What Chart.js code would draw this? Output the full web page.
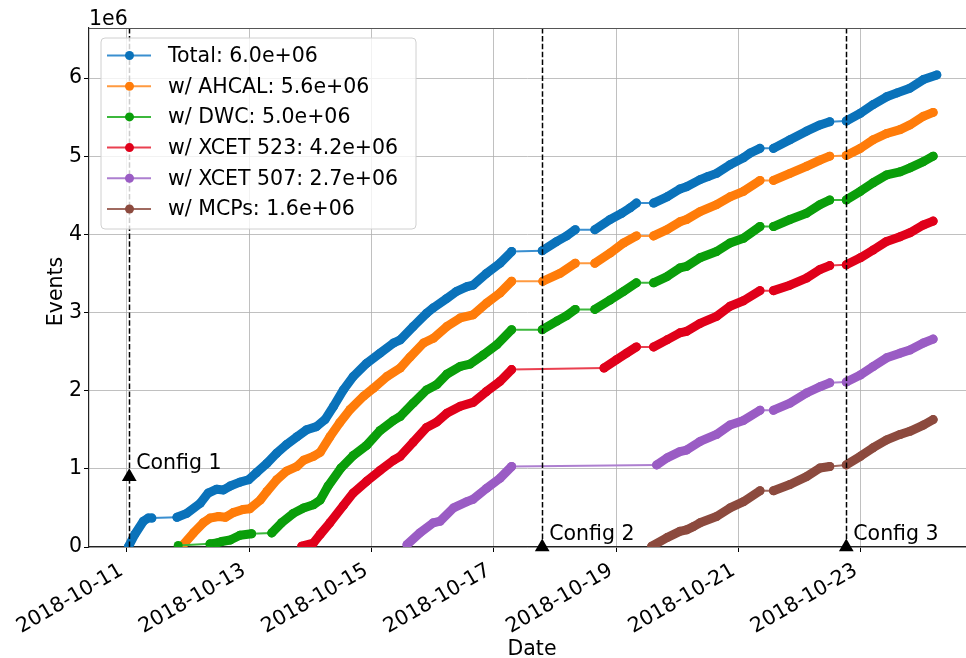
<!DOCTYPE html>
<html><head><meta charset="utf-8">
<script src="https://cdn.jsdelivr.net/npm/chart.js@4.4.1/dist/chart.umd.min.js"></script>
<style>html,body{margin:0;padding:0;background:#fff;overflow:hidden}canvas{display:block}</style>
</head><body>
<canvas id="c" width="966" height="658"></canvas>
<script>
// x values: days since 2018-10-11 00:00 ; y values: events in units of 1e6
const startDate = [2018, 9, 11];
const xTickDays = [0, 2, 4, 6, 8, 10, 12];
const yTicks = [0, 1, 2, 3, 4, 5, 6];
const seriesLabels = ['Total: 6.0e+06', 'w/ AHCAL: 5.6e+06', 'w/ DWC: 5.0e+06', 'w/ XCET 523: 4.2e+06', 'w/ XCET 507: 2.7e+06', 'w/ MCPs: 1.6e+06'];
const seriesColors = ['#0a72ba', '#ff7c0a', '#0a9e0a', '#e0001a', '#9a5cc4', '#8c4a3e'];
const thinColors = ['#3a8fd0', '#ff9a40', '#3cb83c', '#ea4050', '#ad7fd0', '#a06a60'];

const totalX = [0.03,0.13,0.27,0.35,0.41, 0.82,0.98,1.20,1.33,1.47,1.58,1.69,1.85,1.99,2.12,2.29,2.45,2.61,2.78,2.94,3.10,3.24,3.38,3.54,3.70,3.92,4.14,4.36,4.47,4.68,4.90,5.01,5.23,5.39,5.56,5.66,5.88,6.10,6.29, 6.79,7.03,7.19,7.33, 7.65,7.90,8.09,8.23,8.33, 8.61,8.83,9.04,9.15,9.37,9.50,9.64,9.86,10.08,10.19,10.35, 10.57,10.84,11.11,11.33,11.49, 11.76,11.99,12.20,12.42,12.59,12.80,13.02,13.24];
const totalY = [0.01,0.16,0.33,0.37,0.37, 0.38,0.43,0.56,0.69,0.74,0.73,0.78,0.83,0.86,0.95,1.07,1.20,1.31,1.41,1.50,1.54,1.63,1.80,2.01,2.18,2.35,2.48,2.61,2.65,2.82,2.99,3.06,3.18,3.27,3.33,3.35,3.50,3.63,3.78, 3.79,3.91,3.98,4.06, 4.06,4.19,4.27,4.34,4.40, 4.40,4.48,4.58,4.61,4.70,4.74,4.78,4.89,4.98,5.04,5.10, 5.10,5.21,5.32,5.40,5.44, 5.45,5.55,5.66,5.76,5.81,5.87,5.98,6.04];

const ahcalX = [0.90,1.09,1.25,1.36,1.50,1.61,1.74,1.90,2.01,2.18,2.29,2.45,2.61,2.78,2.89,3.05,3.16,3.32,3.48,3.65,3.87,4.03,4.25,4.47,4.63,4.85,5.01,5.23,5.45,5.66,5.88,6.10,6.29, 6.80,7.08,7.33, 7.65,7.90,8.12,8.33, 8.61,8.83,9.04,9.15,9.37,9.64,9.86,10.08,10.35, 10.57,10.84,11.11,11.33,11.49, 11.76,11.99,12.20,12.42,12.64,12.80,13.02,13.18];
const ahcalY = [0.01,0.18,0.31,0.37,0.39,0.38,0.44,0.48,0.49,0.60,0.71,0.86,0.97,1.03,1.11,1.16,1.21,1.41,1.59,1.76,1.93,2.03,2.18,2.29,2.43,2.61,2.67,2.82,2.93,2.97,3.12,3.25,3.40, 3.40,3.50,3.63, 3.63,3.76,3.89,3.98, 3.98,4.06,4.16,4.19,4.29,4.38,4.48,4.55,4.69, 4.69,4.78,4.87,4.95,5.00, 5.01,5.10,5.21,5.29,5.34,5.40,5.51,5.56];

const dwcX = [0.84, 1.36,1.47,1.55,1.69,1.85,2.04, 2.37,2.53,2.72,2.89,3.05,3.16,3.29,3.50,3.70,3.92,4.14,4.36,4.47,4.68,4.90,5.07,5.23,5.45,5.61,5.83,6.05,6.29, 6.79,7.03,7.19,7.33, 7.65,7.90,8.12,8.33, 8.61,8.83,9.04,9.15,9.37,9.64,9.86,10.08,10.35, 10.57,10.84,11.11,11.33,11.49, 11.76,11.99,12.20,12.42,12.64,12.80,13.02,13.18];
const dwcY = [0.02, 0.04,0.05,0.07,0.09,0.15,0.17, 0.18,0.31,0.43,0.50,0.54,0.60,0.78,1.01,1.17,1.30,1.49,1.62,1.67,1.84,2.01,2.08,2.21,2.31,2.34,2.46,2.59,2.78, 2.78,2.89,2.96,3.04, 3.04,3.16,3.27,3.38, 3.38,3.46,3.57,3.59,3.70,3.78,3.89,3.95,4.10, 4.10,4.19,4.27,4.38,4.44, 4.44,4.55,4.66,4.76,4.80,4.85,4.93,5.00];

const xcet523X = [2.86,3.05,3.16,3.32,3.54,3.70,3.92,4.14,4.36,4.47,4.68,4.90,5.07,5.23,5.45,5.66,5.88,6.10,6.29, 7.80,8.01,8.17,8.33, 8.61,8.83,9.04,9.15,9.37,9.64,9.86,10.08,10.35, 10.57,10.84,11.11,11.33,11.49, 11.76,11.99,12.20,12.42,12.64,12.80,13.02,13.18];
const xcet523Y = [0.01,0.05,0.16,0.31,0.53,0.69,0.84,0.98,1.11,1.16,1.34,1.53,1.60,1.71,1.80,1.85,1.99,2.12,2.27, 2.29,2.40,2.48,2.56, 2.56,2.65,2.74,2.76,2.86,2.95,3.08,3.15,3.28, 3.28,3.35,3.44,3.55,3.60, 3.61,3.70,3.80,3.91,3.97,4.02,4.12,4.17];

const xcet507X = [4.58,4.79,5.01,5.12,5.34,5.56,5.66,5.88,6.10,6.29, 8.66,8.83,9.04,9.15,9.37,9.64,9.86,10.08,10.35, 10.57,10.84,11.11,11.33,11.49, 11.76,11.99,12.20,12.42,12.64,12.80,13.02,13.18];
const xcet507Y = [0.03,0.18,0.31,0.33,0.50,0.58,0.61,0.75,0.88,1.03, 1.05,1.14,1.22,1.24,1.35,1.44,1.56,1.62,1.75, 1.75,1.84,1.97,2.05,2.10, 2.11,2.20,2.31,2.42,2.48,2.52,2.61,2.66];

const mcpX = [8.58,8.83,9.04,9.15,9.26,9.37,9.64,9.86,10.08,10.35, 10.57,10.84,11.11,11.33,11.49, 11.76,11.99,12.20,12.42,12.64,12.80,13.02,13.18];
const mcpY = [0.01,0.12,0.20,0.22,0.26,0.31,0.39,0.50,0.58,0.72, 0.72,0.80,0.90,1.01,1.03, 1.05,1.16,1.27,1.37,1.44,1.48,1.56,1.63];

const configLabels = ['Config 1', 'Config 2', 'Config 3'];
const configDays = [0.04, 6.79, 11.76];
const configMarkerY = [0.90, 0, 0];

const xs = [totalX, ahcalX, dwcX, xcet523X, xcet507X, mcpX];
const ys = [totalY, ahcalY, dwcY, xcet523Y, xcet507Y, mcpY];

const FONT = "'DejaVu Sans', sans-serif";
const FS = 20.5;

function dayLabel(v) {
  const dt = new Date(Date.UTC(startDate[0], startDate[1], startDate[2] + v));
  return dt.toISOString().slice(0, 10);
}

function isPause(ctx) {
  const a = ctx.p0.parsed, b = ctx.p1.parsed;
  const dx = b.x - a.x;
  return dx > 0.18 && Math.abs(b.y - a.y) / dx < 0.08;
}

const datasets = seriesLabels.map((lab, i) => ({
  label: lab,
  data: xs[i].map((x, j) => ({ x: x, y: ys[i][j] })),
  borderColor: seriesColors[i],
  backgroundColor: seriesColors[i],
  borderWidth: 9,
  borderCapStyle: 'round',
  borderJoinStyle: 'round',
  pointRadius: 4.5,
  pointBorderWidth: 0,
  pointHoverRadius: 4.5,
  tension: 0,
  fill: false,
  order: 10 - i,
  segment: {
    borderWidth: c => isPause(c) ? 2 : 9,
    borderColor: c => isPause(c) ? thinColors[i] : seriesColors[i]
  }
}));
datasets.push({
  label: 'config',
  data: configDays.map((d, i) => ({ x: d, y: configMarkerY[i] })),
  showLine: false,
  pointStyle: 'triangle',
  pointRadius: 8.5,
  pointHoverRadius: 8.5,
  backgroundColor: '#000',
  borderColor: '#000',
  borderWidth: 0,
  clip: false,
  order: 0
});

const decor = {
  id: 'decor',
  afterDatasetsDraw(chart) {
    const ctx = chart.ctx, xS = chart.scales.x, yS = chart.scales.y, a = chart.chartArea;
    ctx.save();
    ctx.strokeStyle = '#000';
    ctx.lineWidth = 1.5;
    ctx.setLineDash([5.5, 2.4]);
    configDays.forEach(d => {
      const px = Math.round(xS.getPixelForValue(d)) + 0.5;
      ctx.beginPath(); ctx.moveTo(px, a.top); ctx.lineTo(px, a.bottom); ctx.stroke();
    });
    ctx.setLineDash([]);
    ctx.fillStyle = '#000';
    ctx.font = FS + 'px ' + FONT;
    ctx.textAlign = 'left';
    ctx.textBaseline = 'alphabetic';
    configDays.forEach((d, i) => {
      const px = xS.getPixelForValue(d), py = yS.getPixelForValue(configMarkerY[i]);
      ctx.fillText(configLabels[i], px + 7, py - 7.5);
    });
    ctx.restore();
  },
  afterDraw(chart) {
    const ctx = chart.ctx, a = chart.chartArea, xS = chart.scales.x;
    ctx.save();
    // top spine
    ctx.strokeStyle = '#555';
    ctx.lineWidth = 1.2;
    ctx.beginPath(); ctx.moveTo(a.left, a.top + 0.5); ctx.lineTo(a.right, a.top + 0.5); ctx.stroke();
    ctx.fillStyle = '#000';
    ctx.font = FS + 'px ' + FONT;
    // rotated date tick labels (right end of rotated box at the tick)
    const boxH = 1.164 * FS, asc = 0.928 * FS;
    xS.ticks.forEach(t => {
      const px = xS.getPixelForValue(t.value);
      ctx.save();
      ctx.translate(px - boxH / 2, a.bottom + 10.3);
      ctx.rotate(-Math.PI / 6);
      ctx.textAlign = 'right';
      ctx.textBaseline = 'alphabetic';
      ctx.fillText(dayLabel(t.value), 0, asc);
      ctx.restore();
    });
    // offset text and axis titles
    ctx.textBaseline = 'alphabetic';
    ctx.textAlign = 'left';
    ctx.fillText('1e6', a.left, 25);
    ctx.textAlign = 'center';
    ctx.fillText('Date', 532, 655);
    ctx.save();
    ctx.translate(61.5, (a.top + a.bottom) / 2 + 4);
    ctx.rotate(-Math.PI / 2);
    ctx.fillText('Events', 0, 0);
    ctx.restore();
    // legend
    const lx = 101, ly = 38, lw = 315, lh = 191, r = 4;
    ctx.beginPath();
    ctx.moveTo(lx + r, ly); ctx.lineTo(lx + lw - r, ly); ctx.arcTo(lx + lw, ly, lx + lw, ly + r, r);
    ctx.lineTo(lx + lw, ly + lh - r); ctx.arcTo(lx + lw, ly + lh, lx + lw - r, ly + lh, r);
    ctx.lineTo(lx + r, ly + lh); ctx.arcTo(lx, ly + lh, lx, ly + lh - r, r);
    ctx.lineTo(lx, ly + r); ctx.arcTo(lx, ly, lx + r, ly, r);
    ctx.closePath();
    ctx.fillStyle = 'rgba(255,255,255,0.8)';
    ctx.fill();
    ctx.strokeStyle = '#d0d0d0';
    ctx.lineWidth = 1;
    ctx.stroke();
    ctx.textAlign = 'left';
    ctx.textBaseline = 'middle';
    seriesLabels.forEach((lab, i) => {
      const y = 55.5 + i * 30.7;
      ctx.strokeStyle = thinColors[i];
      ctx.lineWidth = 2;
      ctx.beginPath(); ctx.moveTo(107, y); ctx.lineTo(151, y); ctx.stroke();
      ctx.fillStyle = seriesColors[i];
      ctx.beginPath(); ctx.arc(129.5, y, 4.5, 0, Math.PI * 2); ctx.fill();
      ctx.fillStyle = '#000';
      ctx.fillText(lab, 168, y + 1);
    });
    ctx.restore();
  }
};

new Chart(document.getElementById('c'), {
  type: 'line',
  data: { datasets: datasets },
  options: {
    responsive: false,
    devicePixelRatio: 1,
    animation: false,
    events: [],
    layout: { autoPadding: false, padding: { top: 28, left: 0, right: 0, bottom: 0 } },
    plugins: { legend: { display: false }, tooltip: { enabled: false } },
    scales: {
      x: {
        type: 'linear',
        min: -0.618,
        max: 13.717,
        afterBuildTicks: s => { s.ticks = xTickDays.map(v => ({ value: v })); },
        afterFit: s => { s.height = 111; s.paddingLeft = 0; s.paddingRight = 0; },
        grid: { color: '#b0b0b0', lineWidth: 0.8, tickColor: '#000', tickLength: 5, tickWidth: 1 },
        border: { display: true, color: '#222', width: 1.2 },
        ticks: { display: false, autoSkip: false, callback: v => dayLabel(v) }
      },
      y: {
        type: 'linear',
        min: 0,
        max: 6.64,
        afterBuildTicks: s => { s.ticks = yTicks.map(v => ({ value: v })); },
        afterFit: s => { s.width = 89; },
        grid: { color: '#b0b0b0', lineWidth: 0.8, tickColor: '#000', tickLength: 5, tickWidth: 1 },
        border: { display: true, color: '#222', width: 1.2 },
        ticks: {
          padding: 2, color: '#000', font: { family: FONT, size: FS },
          callback: v => String(v)
        }
      }
    }
  },
  plugins: [decor]
});
</script>
</body></html>
